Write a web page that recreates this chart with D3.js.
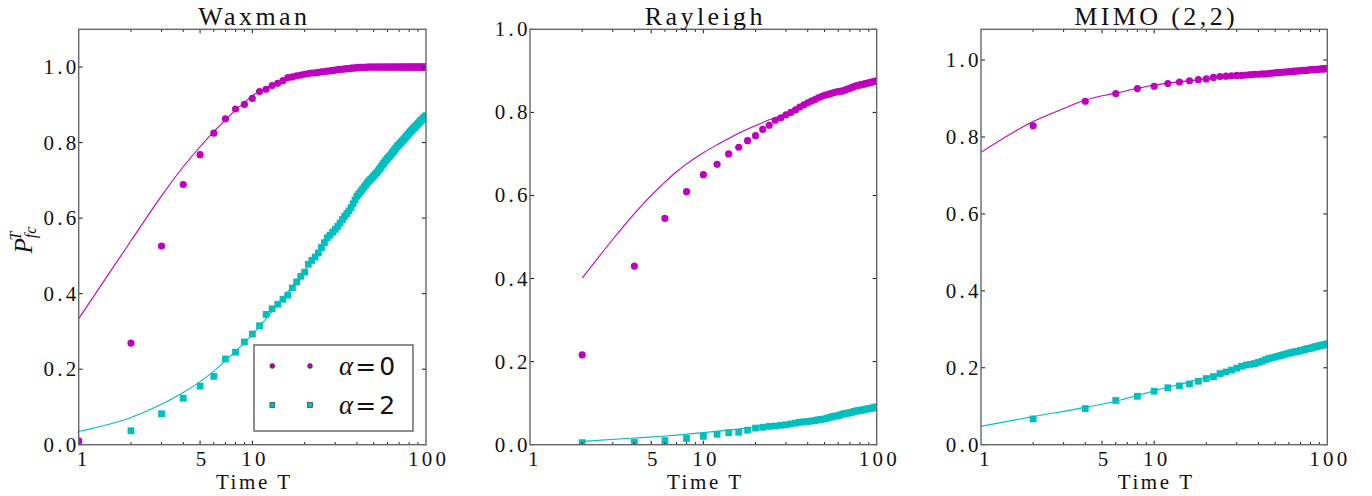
<!DOCTYPE html>
<html>
<head>
<meta charset="utf-8">
<script src="https://cdn.jsdelivr.net/npm/d3@7"></script>
<style>
  html, body { margin: 0; padding: 0; background: #fff; }
  svg { display: block; }
</style>
</head>
<body>
<svg id="chart" width="1372" height="496"></svg>
<script>
// Time grids
const timeAll = [1,2,3,4,5,6,7,8,9,10,11,12,13,14,15,16,17,18,19,20,21,22,23,24,25,26,27,28,29,30,
  31,32,33,34,35,36,37,38,39,40,41,42,43,44,45,46,47,48,49,50,51,52,53,54,55,56,57,58,59,60,
  61,62,63,64,65,66,67,68,69,70,71,72,73,74,75,76,77,78,79,80,81,82,83,84,85,86,87,88,89,90,
  91,92,93,94,95,96,97,98,99,100];
const timeEven = [2,4,6,8,10,12,14,16,18,20,22,24,26,28,30,32,34,36,38,40,42,44,46,48,50,
  52,54,56,58,60,62,64,66,68,70,72,74,76,78,80,82,84,86,88,90,92,94,96,98,100];

// Waxman: simulated points
const waxmanA0 = [0.010,0.269,0.526,0.689,0.768,0.825,0.863,0.889,0.901,0.917,0.935,0.941,0.951,0.957,0.964,0.972,0.974,0.977,0.979,0.981,
  0.983,0.984,0.985,0.986,0.987,0.988,0.989,0.990,0.991,0.992,0.993,0.994,0.994,0.995,0.996,0.996,0.997,0.997,0.998,0.998,
  0.999,0.999,0.999,0.999,0.999,1.000,1.000,1.000,1.000,1.000,1.000,1.000,1.000,1.000,1.000,1.000,1.000,1.000,1.000,1.000,
  1.000,1.000,1.000,1.000,1.000,1.000,1.000,1.000,1.000,1.000,1.000,1.000,1.000,1.000,1.000,1.000,1.000,1.000,1.000,1.000,
  1.000,1.000,1.000,1.000,1.000,1.000,1.000,1.000,1.000,1.000,1.000,1.000,1.000,1.000,1.000,1.000,1.000,1.000,1.000,1.000];
const waxmanA2 = [0.006,0.037,0.082,0.123,0.155,0.181,0.227,0.245,0.272,0.293,0.315,0.345,0.360,0.372,0.385,0.396,0.415,0.431,0.446,0.457,
  0.478,0.488,0.497,0.508,0.522,0.535,0.548,0.555,0.563,0.570,0.578,0.587,0.596,0.605,0.612,0.619,0.628,0.638,0.648,0.658,
  0.664,0.670,0.676,0.682,0.688,0.694,0.699,0.703,0.707,0.712,0.716,0.720,0.725,0.730,0.735,0.740,0.745,0.750,0.754,0.758,
  0.762,0.765,0.769,0.773,0.777,0.781,0.785,0.789,0.792,0.795,0.798,0.801,0.804,0.807,0.810,0.813,0.816,0.819,0.822,0.825,
  0.828,0.830,0.833,0.836,0.838,0.840,0.843,0.845,0.848,0.850,0.852,0.855,0.857,0.859,0.861,0.863,0.865,0.867,0.869,0.871];
// Waxman: analytical curves
const waxmanFitT = [1,2,3,4,5,6,7,8,9,10,12,15,20,30,40,60,100];
const waxmanFitA0 = [0.334,0.540,0.659,0.736,0.789,0.829,0.860,0.886,0.906,0.924,0.945,0.966,0.982,0.994,0.998,1.000,1.000];
const waxmanFitT2 = [1,2,3,4,5,6,7,8,9,10,12,14,17,20,25,30,40,50,60,70,80,90,100];
const waxmanFitA2 = [0.035,0.072,0.107,0.138,0.167,0.195,0.222,0.247,0.270,0.292,0.334,0.372,0.420,0.462,0.525,0.575,0.658,0.715,0.760,0.797,0.826,0.851,0.871];

// Rayleigh
const rayleighA0 = [0.216,0.430,0.545,0.609,0.650,0.675,0.700,0.716,0.732,0.744,0.759,0.769,0.781,0.787,0.794,0.800,0.806,0.813,0.818,0.823,
  0.827,0.831,0.835,0.838,0.841,0.843,0.845,0.847,0.849,0.850,0.851,0.852,0.854,0.856,0.858,0.860,0.862,0.864,0.865,0.866,
  0.867,0.868,0.869,0.870,0.871,0.872,0.873,0.874,0.875,0.876];
const rayleighA2 = [0.005,0.006,0.010,0.015,0.020,0.025,0.029,0.030,0.035,0.040,0.042,0.044,0.045,0.047,0.048,0.050,0.052,0.054,0.055,0.056,
  0.057,0.058,0.060,0.061,0.062,0.064,0.066,0.068,0.069,0.070,0.072,0.074,0.075,0.076,0.077,0.078,0.080,0.081,0.082,0.083,
  0.083,0.084,0.085,0.086,0.087,0.087,0.088,0.089,0.090,0.091];
const rayleighFitT = [2,3,4,5,6,7,8,10,12,14,17,20,24,30,40,50,60,70,80,90,100];
const rayleighFitA0 = [0.401,0.494,0.556,0.600,0.632,0.657,0.676,0.703,0.722,0.737,0.755,0.768,0.782,0.797,0.821,0.840,0.850,0.858,0.866,0.871,0.876];
const rayleighFitT2 = [2,4,6,10,14,20,30,40,50,60,70,80,90,100];
const rayleighFitA2 = [0.008,0.016,0.021,0.029,0.035,0.042,0.048,0.056,0.062,0.070,0.077,0.083,0.087,0.091];

// MIMO (2,2)
const mimoA0 = [0.829,0.893,0.913,0.926,0.932,0.939,0.943,0.946,0.949,0.951,0.955,0.957,0.958,0.959,0.960,0.960,0.961,0.962,0.963,0.963,
  0.964,0.964,0.965,0.966,0.967,0.968,0.968,0.969,0.969,0.970,0.970,0.971,0.971,0.972,0.972,0.973,0.973,0.973,0.974,0.975,
  0.975,0.975,0.976,0.976,0.976,0.977,0.977,0.977,0.978,0.978];
const mimoA2 = [0.067,0.094,0.115,0.126,0.139,0.148,0.153,0.158,0.165,0.172,0.177,0.185,0.189,0.194,0.199,0.204,0.207,0.209,0.211,0.214,
  0.217,0.221,0.224,0.226,0.228,0.230,0.232,0.234,0.236,0.238,0.239,0.241,0.242,0.243,0.245,0.246,0.247,0.249,0.250,0.251,
  0.252,0.254,0.255,0.256,0.257,0.258,0.259,0.260,0.261,0.262];
const mimoFitT = [1,2,3,4,6,10,20,30,50,70,100];
const mimoFitA0 = [0.760,0.840,0.874,0.896,0.914,0.935,0.951,0.960,0.967,0.972,0.978];
const mimoFitT2 = [1,2,4,6,10,20,30,50,70,100];
const mimoFitA2 = [0.048,0.073,0.097,0.113,0.140,0.175,0.199,0.228,0.245,0.262];

const xTickValues = [1, 5, 10, 100];
const xMinorTicks = [2,3,4,5,6,7,8,9,20,30,40,50,60,70,80,90];
const yTickValues = [0, 0.2, 0.4, 0.6, 0.8, 1.0];
const legendLabels = ["0", "2"];

const MAGENTA = "#bf00bf";
const CYAN = "#00bfbf";
const SERIF = "'Liberation Serif', 'Times New Roman', Tinos, Times, serif";

const panels = [
  { title: "Waxman", left: 78.7, right: 426, yMax: 1.1,
    a0: { t: timeAll, v: waxmanA0 }, a2: { t: timeAll, v: waxmanA2 },
    f0: { t: waxmanFitT, v: waxmanFitA0 }, f2: { t: waxmanFitT2, v: waxmanFitA2 }, legend: true, ylabel: true },
  { title: "Rayleigh", left: 530, right: 876.7, yMax: 1.0,
    a0: { t: timeEven, v: rayleighA0 }, a2: { t: timeEven, v: rayleighA2 },
    f0: { t: rayleighFitT, v: rayleighFitA0 }, f2: { t: rayleighFitT2, v: rayleighFitA2 } },
  { title: "MIMO (2,2)", left: 981, right: 1327.3, yMax: 1.08,
    a0: { t: timeEven, v: mimoA0 }, a2: { t: timeEven, v: mimoA2 },
    f0: { t: mimoFitT, v: mimoFitA0 }, f2: { t: mimoFitT2, v: mimoFitA2 } }
];

const TOP = 29.3, BOTTOM = 444.7;
const svg = d3.select("#chart");

function serifText(sel, size, spacing) {
  return sel.style("font-family", SERIF).style("font-size", size + "px")
    .style("letter-spacing", spacing + "px").attr("fill", "#111");
}
// spaced digits without trailing gap: per-glyph dx offsets
function spacedLabel(sel, str, gap) {
  return sel.style("font-family", SERIF).style("font-size", "21px").attr("fill", "#111")
    .attr("dx", str.split("").map((c, k) => (k === 0 ? 0 : gap)).join(" "))
    .text(str);
}

panels.forEach((p, i) => {
  const x = d3.scaleLog().domain([1, 100]).range([p.left, p.right]);
  const y = d3.scaleLinear().domain([0, p.yMax]).range([BOTTOM, TOP]);
  const g = svg.append("g");
  const clipId = "clip" + i;
  svg.append("clipPath").attr("id", clipId).append("rect")
    .attr("x", p.left).attr("y", TOP).attr("width", p.right - p.left).attr("height", BOTTOM - TOP);

  const plot = g.append("g").attr("clip-path", `url(#${clipId})`);

  const line = d3.line().x(d => x(d[0])).y(d => y(d[1])).curve(d3.curveMonotoneX);
  const zip = s => s.t.map((t, k) => [t, s.v[k]]);

  plot.append("path").datum(zip(p.f0)).attr("d", line)
    .attr("fill", "none").attr("stroke", MAGENTA).attr("stroke-width", 1.1);
  plot.append("path").datum(zip(p.f2)).attr("d", line)
    .attr("fill", "none").attr("stroke", CYAN).attr("stroke-width", 1.1);

  const sq = 6.8;
  plot.selectAll(".sq").data(zip(p.a2)).enter().append("rect")
    .attr("x", d => x(d[0]) - sq / 2).attr("y", d => y(d[1]) - sq / 2)
    .attr("width", sq).attr("height", sq).attr("fill", CYAN);
  plot.selectAll(".dot").data(zip(p.a0)).enter().append("circle")
    .attr("cx", d => x(d[0])).attr("cy", d => y(d[1])).attr("r", 3.6).attr("fill", MAGENTA);

  // axes: ticks point inward on all four sides
  const frame = g.append("g");
  const tickColor = "#111";
  yTickValues.filter(v => v <= p.yMax + 1e-9).forEach(v => {
    frame.append("line").attr("x1", p.left).attr("x2", p.left + 4).attr("y1", y(v)).attr("y2", y(v))
      .attr("stroke", tickColor).attr("stroke-width", 1);
    frame.append("line").attr("x1", p.right).attr("x2", p.right - 4).attr("y1", y(v)).attr("y2", y(v))
      .attr("stroke", tickColor).attr("stroke-width", 1);
    spacedLabel(g.append("text"), d3.format(".1f")(v), 3.2)
      .attr("x", p.left - 2.5).attr("y", y(v) + 7).attr("text-anchor", "end");
  });
  xMinorTicks.forEach(t => {
    const len = t === 5 ? 4 : 2.5;
    frame.append("line").attr("x1", x(t)).attr("x2", x(t)).attr("y1", BOTTOM).attr("y2", BOTTOM - len)
      .attr("stroke", tickColor).attr("stroke-width", 1);
    frame.append("line").attr("x1", x(t)).attr("x2", x(t)).attr("y1", TOP).attr("y2", TOP + len)
      .attr("stroke", tickColor).attr("stroke-width", 1);
  });
  [10].forEach(t => {
    frame.append("line").attr("x1", x(t)).attr("x2", x(t)).attr("y1", BOTTOM).attr("y2", BOTTOM - 4)
      .attr("stroke", tickColor).attr("stroke-width", 1);
    frame.append("line").attr("x1", x(t)).attr("x2", x(t)).attr("y1", TOP).attr("y2", TOP + 4)
      .attr("stroke", tickColor).attr("stroke-width", 1);
  });
  xTickValues.forEach(t => {
    const lab = spacedLabel(g.append("text"), String(t), 3.2).attr("y", BOTTOM + 21);
    if (t === 1) lab.attr("x", p.left - 2).attr("text-anchor", "start");
    else lab.attr("x", x(t) + 1).attr("text-anchor", "middle");
  });

  frame.append("rect").attr("x", p.left).attr("y", TOP)
    .attr("width", p.right - p.left).attr("height", BOTTOM - TOP)
    .attr("fill", "none").attr("stroke", "#666").attr("stroke-width", 1.4);

  serifText(g.append("text"), 26, 3.4).attr("x", (p.left + p.right) / 2 + 2).attr("y", 25)
    .attr("text-anchor", "middle").text(p.title);
  serifText(g.append("text"), 21, 2.6).attr("x", (p.left + p.right) / 2 + 2).attr("y", 489)
    .attr("text-anchor", "middle").text("Time T");

  if (p.ylabel) {
    const lab = svg.append("text")
      .attr("transform", "translate(32,240) rotate(-90)")
      .attr("text-anchor", "middle")
      .style("font-family", SERIF)
      .style("font-style", "italic").style("font-size", "25px").attr("fill", "#111");
    lab.append("tspan").text("P");
    lab.append("tspan").style("font-size", "16px").attr("dy", 4).text("fc");
    lab.append("tspan").style("font-size", "16px").attr("dy", -15).attr("dx", -14).text("T");
  }

  if (p.legend) {
    const lg = g.append("g");
    lg.append("rect").attr("x", 254).attr("y", 345).attr("width", 159).attr("height", 86)
      .attr("fill", "#fff").attr("stroke", "#333").attr("stroke-width", 1.1);
    const rows = [
      { yy: 366, color: MAGENTA, shape: "circle", lab: legendLabels[0] },
      { yy: 405, color: CYAN, shape: "square", lab: legendLabels[1] }
    ];
    rows.forEach(r => {
      [272.3, 310].forEach(mx => {
        if (r.shape === "circle") {
          lg.append("circle").attr("cx", mx).attr("cy", r.yy).attr("r", 2.4)
            .attr("fill", r.color).attr("stroke", "#333").attr("stroke-width", 0.7);
        } else {
          lg.append("rect").attr("x", mx - 2.4).attr("y", r.yy - 2.4).attr("width", 4.8).attr("height", 4.8)
            .attr("fill", r.color).attr("stroke", "#333").attr("stroke-width", 0.7);
        }
      });
      const t = lg.append("text").attr("x", 339).attr("y", r.yy + 9).attr("fill", "#111");
      t.append("tspan").style("font-family", SERIF).style("font-style", "italic")
        .style("font-size", "27px").text("α");
      t.append("tspan").style("font-family", "'DejaVu Sans', sans-serif").style("font-size", "25px")
        .attr("dx", 2).text("=");
      t.append("tspan").style("font-family", "'DejaVu Sans', sans-serif").style("font-size", "25px")
        .attr("dx", 3).text(r.lab);
    });
  }
});
</script>
</body>
</html>
